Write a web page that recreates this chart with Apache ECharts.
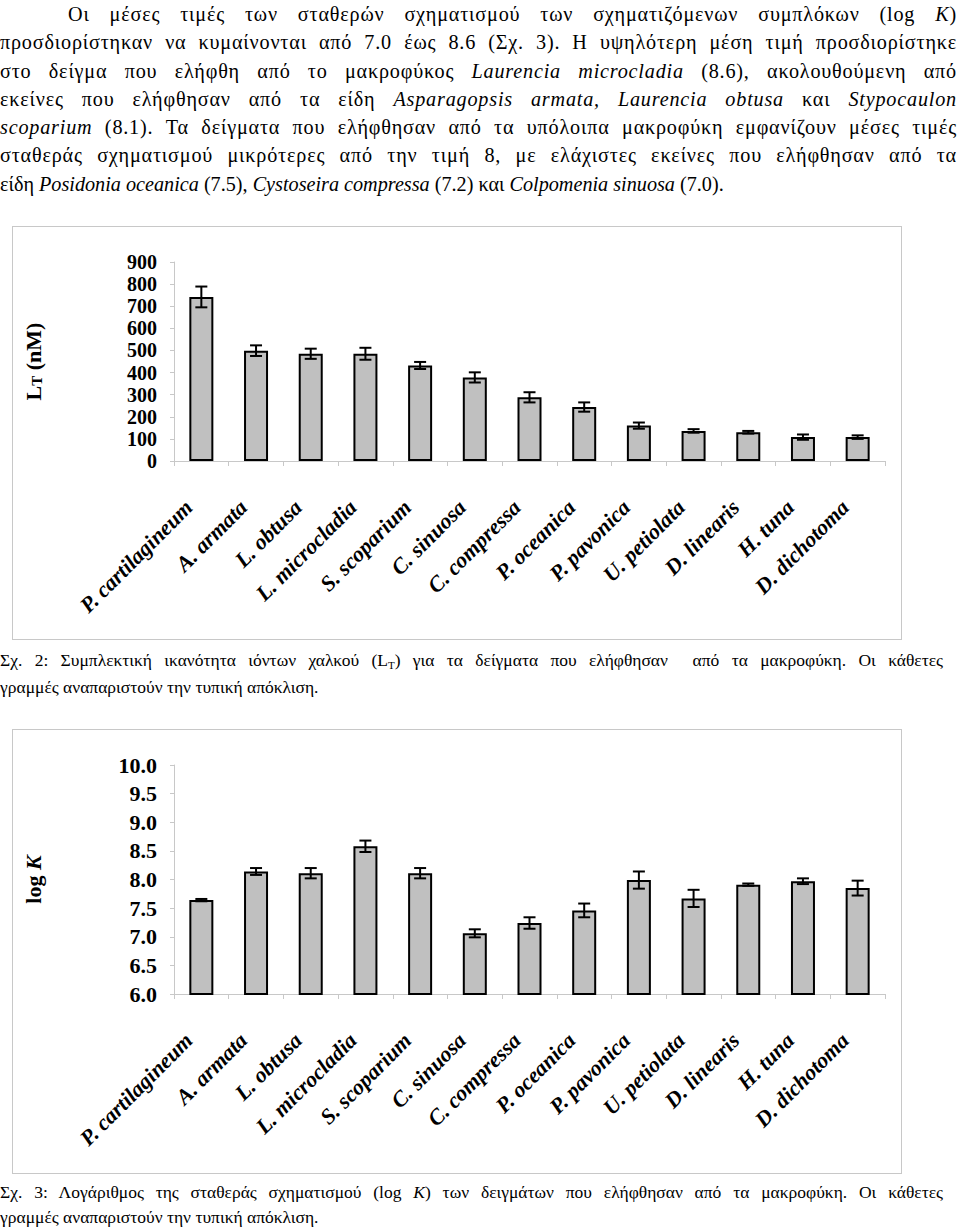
<!DOCTYPE html>
<html>
<head>
<meta charset="utf-8">
<style>
  html, body { margin: 0; padding: 0; background: #fff; }
  body { width: 960px; height: 1230px; position: relative; overflow: hidden; color: #000; }
  .para, .cap, .para div, .cap div, i, sub { font-family: 'Liberation Serif', 'Times New Roman', Times, serif; }
  .para { position: absolute; left: 0; top: 0; width: 957px; font-size: 20.2px; line-height: 28.3px; }
  .para .jl { letter-spacing: 0.8px; }
  .jl { text-align: justify; text-align-last: justify; }
  .ind { padding-left: 68px; }
  .cap { position: absolute; left: 0; width: 943px; font-size: 17.5px; line-height: 25px; }
  .frame { position: absolute; left: 12px; width: 890px; border: 1px solid #c8c8c8; box-sizing: border-box; }
  sub { font-size: 11px; vertical-align: baseline; position: relative; top: 3px; }
</style>
<script src="https://cdn.jsdelivr.net/npm/echarts@6/dist/echarts.min.js"></script>
</head>
<body>
<div class="para">
  <div class="jl ind">Οι μέσες τιμές των σταθερών σχηματισμού των σχηματιζόμενων συμπλόκων (log <i>K</i>)</div>
  <div class="jl">προσδιορίστηκαν να κυμαίνονται από 7.0 έως 8.6 (Σχ. 3). Η υψηλότερη μέση τιμή προσδιορίστηκε</div>
  <div class="jl">στο δείγμα που ελήφθη από το μακροφύκος <i>Laurencia microcladia</i> (8.6), ακολουθούμενη από</div>
  <div class="jl">εκείνες που ελήφθησαν από τα είδη <i>Asparagopsis armata, Laurencia obtusa</i> και <i>Stypocaulon</i></div>
  <div class="jl"><i>scoparium</i> (8.1). Τα δείγματα που ελήφθησαν από τα υπόλοιπα μακροφύκη εμφανίζουν μέσες τιμές</div>
  <div class="jl">σταθεράς σχηματισμού μικρότερες από την τιμή 8, με ελάχιστες εκείνες που ελήφθησαν από τα</div>
  <div>είδη <i>Posidonia oceanica</i> (7.5), <i>Cystoseira compressa</i> (7.2) και <i>Colpomenia sinuosa</i> (7.0).</div>
</div>

<div id="c1" class="frame" style="top:226px;height:414px;"></div>
<div class="cap" style="top:648px;">
  <div class="jl">Σχ. 2: Συμπλεκτική ικανότητα ιόντων χαλκού (L<sub>T</sub>) για τα δείγματα που ελήφθησαν&nbsp; από τα μακροφύκη. Οι κάθετες</div>
  <div>γραμμές αναπαριστούν την τυπική απόκλιση.</div>
</div>

<div id="c2" class="frame" style="top:729px;height:445px;"></div>
<div class="cap" style="top:1180px;">
  <div class="jl">Σχ. 3: Λογάριθμος της σταθεράς σχηματισμού (log <i>K</i>) των δειγμάτων που ελήφθησαν από τα μακροφύκη. Οι κάθετες</div>
  <div>γραμμές αναπαριστούν την τυπική απόκλιση.</div>
</div>

<script>
const categories = ['P. cartilagineum', 'A. armata', 'L. obtusa', 'L. microcladia', 'S. scoparium',
  'C. sinuosa', 'C. compressa', 'P. oceanica', 'P. pavonica', 'U. petiolata', 'D. linearis',
  'H. tuna', 'D. dichotoma'];
const ltValues = [742, 499, 485, 485, 432, 378, 288, 244, 160, 136, 130, 108, 108];
const ltSd     = [47, 24, 23, 27, 16, 23, 23, 21, 14, 8, 6, 12, 8];
const logKValues = [7.64, 8.14, 8.11, 8.58, 8.11, 7.06, 7.24, 7.46, 7.99, 7.67, 7.91, 7.97, 7.85];
const logKSd     = [0.02, 0.06, 0.09, 0.10, 0.09, 0.07, 0.10, 0.12, 0.15, 0.15, 0.02, 0.05, 0.13];

const FONT = 'Liberation Serif';

function errData(vals, sds) {
  return vals.map((v, i) => [i, v - sds[i], v + sds[i]]);
}

function errRender(params, api) {
  const x = api.value(0);
  const lo = api.coord([x, api.value(1)]);
  const hi = api.coord([x, api.value(2)]);
  const hw = 6;
  const st = { stroke: '#000', lineWidth: 2 };
  return {
    type: 'group',
    children: [
      { type: 'line', shape: { x1: hi[0], y1: hi[1], x2: lo[0], y2: lo[1] }, style: st },
      { type: 'line', shape: { x1: hi[0] - hw, y1: hi[1], x2: hi[0] + hw, y2: hi[1] }, style: st },
      { type: 'line', shape: { x1: lo[0] - hw, y1: lo[1], x2: lo[0] + hw, y2: lo[1] }, style: st }
    ]
  };
}

function makeOption(cfg) {
  return {
    animation: false,
    grid: { left: 161, right: 16, top: cfg.top, bottom: cfg.bottom, containLabel: false },
    xAxis: {
      type: 'category',
      data: categories,
      boundaryGap: true,
      axisLine: { show: true, lineStyle: { color: '#c8c8c8', width: 1 } },
      axisTick: { show: true, length: 5, lineStyle: { color: '#c8c8c8' } },
      axisLabel: {
        interval: 0, rotate: 45, margin: 30,
        fontFamily: FONT, fontSize: 22, fontWeight: 'bold', fontStyle: 'italic', color: '#000',
        padding: [0, 18, 0, 0]
      }
    },
    yAxis: {
      type: 'value',
      min: cfg.min, max: cfg.max, interval: cfg.interval,
      name: cfg.name,
      nameLocation: 'middle', nameRotate: 90, nameGap: 130,
      nameTextStyle: cfg.nameStyle,
      axisLine: { show: true, lineStyle: { color: '#c8c8c8', width: 1 } },
      axisTick: { show: true, length: 4, lineStyle: { color: '#c8c8c8' } },
      splitLine: { show: false },
      axisLabel: {
        margin: 17, fontFamily: FONT, fontSize: cfg.labelSize, fontWeight: 'bold', color: '#000',
        lineHeight: cfg.labelSize - 1,
        showMinLabel: true, showMaxLabel: true, hideOverlap: false,
        formatter: cfg.fmt
      }
    },
    series: [
      {
        type: 'bar',
        data: cfg.values,
        barWidth: 24,
        itemStyle: { color: '#c0c0c0', borderColor: '#000', borderWidth: 2 }
      },
      {
        type: 'custom',
        renderItem: errRender,
        data: cfg.err,
        encode: { x: 0, y: [1, 2] },
        z: 5
      }
    ]
  };
}

const c1 = echarts.init(document.getElementById('c1'), null, { renderer: 'svg' });
c1.setOption(makeOption({
  top: 35, bottom: 178, min: 0, max: 900, interval: 100, labelSize: 20,
  values: ltValues, err: errData(ltValues, ltSd),
  fmt: v => String(v),
  name: '{a|L}{b|T}{a| (nM)}',
  nameStyle: {
    fontFamily: FONT, fontWeight: 'bold', color: '#000',
    rich: {
      a: { fontFamily: FONT, fontWeight: 'bold', fontSize: 22, color: '#000' },
      b: { fontFamily: FONT, fontWeight: 'bold', fontSize: 15, color: '#000', verticalAlign: 'bottom' }
    }
  }
}));

const c2 = echarts.init(document.getElementById('c2'), null, { renderer: 'svg' });
c2.setOption(makeOption({
  top: 35, bottom: 179, min: 6, max: 10, interval: 0.5, labelSize: 22,
  values: logKValues, err: errData(logKValues, logKSd),
  fmt: v => v.toFixed(1),
  name: '{a|log }{k|K}',
  nameStyle: {
    fontFamily: FONT, fontWeight: 'bold', color: '#000',
    rich: {
      a: { fontFamily: FONT, fontWeight: 'bold', fontSize: 22, color: '#000' },
      k: { fontFamily: FONT, fontWeight: 'bold', fontStyle: 'italic', fontSize: 22, color: '#000' }
    }
  }
}));
</script>
</body>
</html>
